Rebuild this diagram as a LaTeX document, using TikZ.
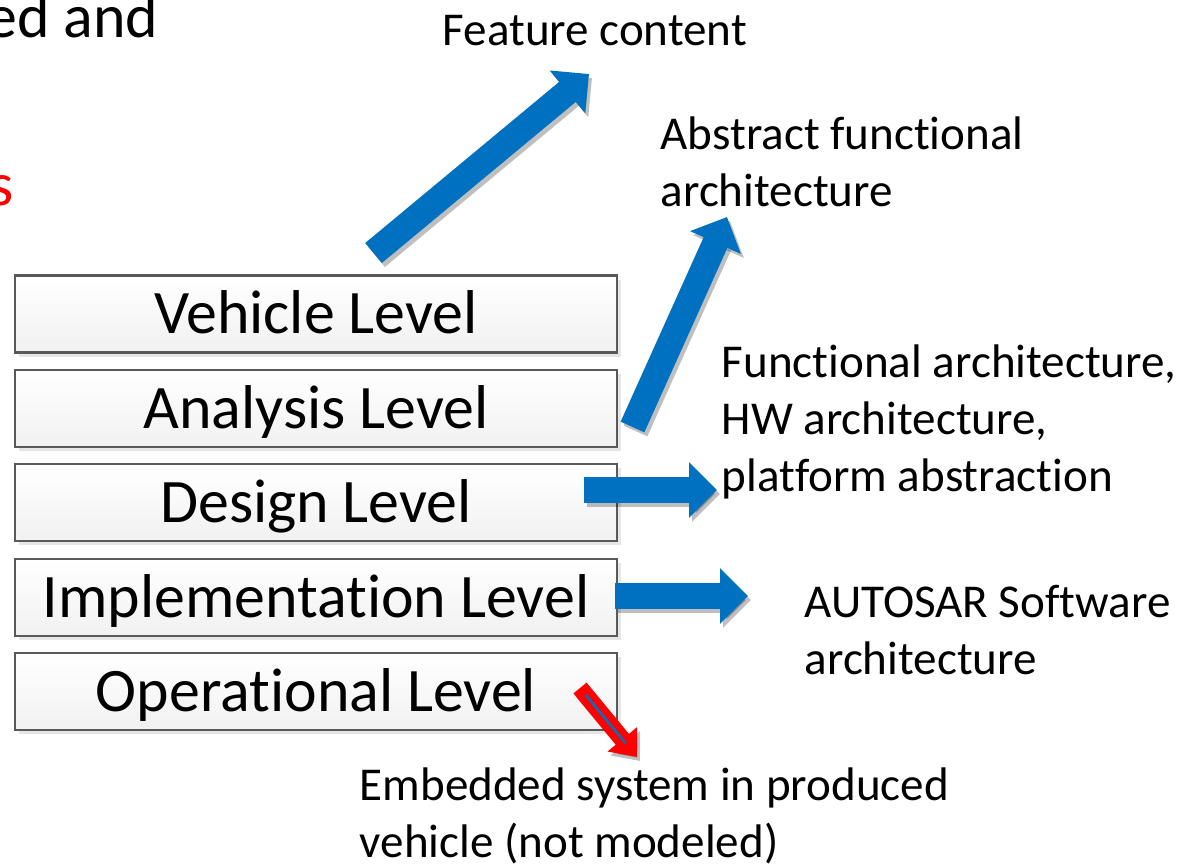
\documentclass[tikz,border=0pt]{standalone}
\usepackage{fontspec}
\setmainfont{Carlito}[Ligatures=NoCommon]
\usepackage{tikz}
\usetikzlibrary{positioning,arrows.meta,calc,shadows}
\definecolor{arrowblue}{HTML}{0070C0}
\definecolor{boxline}{HTML}{595959}

\begin{document}
\begin{tikzpicture}[
  level/.style={draw=boxline, line width=0.6pt, top color=white, bottom color=gray!11,
    minimum width=6.02cm, minimum height=0.77cm, inner sep=0pt, text height=11.3pt, text depth=0pt,
    font=\fontsize{17.6}{21}\selectfont,
    drop shadow={shadow xshift=0.04cm, shadow yshift=-0.04cm, opacity=0.2}},
  note/.style={align=left, inner sep=0pt, anchor=base west, font=\fontsize{13.4}{16.2}\selectfont},
  blockarrow/.style={arrowblue, line width=0.26cm, -{Triangle[length=0.28cm, width=0.54cm]}},
  redarrow/.style={red, line width=0.17cm, -{Triangle[length=0.23cm, width=0.37cm]}},
  arrowshadow/.style={black, opacity=0.25, transform canvas={shift={(0.03,-0.04)}}},
  node distance=0.153cm]
\useasboundingbox (0,0) rectangle (11.91,-8.65);
% slide text cut off at the frame
\node[font=\fontsize{17.6}{21}\selectfont, anchor=base east, inner sep=0pt] (title) at (1.59,-0.37) {ed and};
\node[font=\fontsize{17.6}{21}\selectfont, text=red, anchor=base east, inner sep=0pt] (keyword) at (0.14,-2.05) {s};
% levels
\node[level] (vehicle) at (3.16,-3.14) {Vehicle Level};
\node[level, below=of vehicle] (analysis) {Analysis Level};
\node[level, below=of analysis] (design) {Design Level};
\node[level, below=of design] (impl) {Implementation Level};
\node[level, below=of impl] (oper) {Operational Level};
% artefacts (base = last line)
\node[note] (feature) at (4.42,-0.45) {Feature content};
\node[note] (abstract) at (6.60,-2.06) {Abstract functional\\architecture};
\node[note] (functional) at (7.21,-4.91) {Functional architecture,\\HW architecture,\\platform abstraction};
\node[note] (autosar) at (8.04,-6.74) {AUTOSAR Software\\architecture};
\node[note] (embedded) at (3.59,-8.57) {Embedded system in produced\\vehicle (not modeled)};
% arrow ends
\coordinate (vehicle-out) at (3.735,-2.53);
\coordinate (feature-in) at (5.89,-0.74);
\coordinate (analysis-out) at (6.325,-4.27);
\coordinate (abstract-in) at (7.27,-2.17);
\coordinate (design-out) at (5.84,-4.90);
\coordinate (functional-in) at (7.17,-4.90);
\coordinate (impl-out) at (6.15,-5.96);
\coordinate (autosar-in) at (7.48,-5.96);
\coordinate (oper-out) at (5.80,-6.88);
\coordinate (embedded-in) at (6.37,-7.57);
% arrows
\foreach \a/\b in {vehicle-out/feature-in, analysis-out/abstract-in, design-out/functional-in, impl-out/autosar-in} {
  \draw[blockarrow, arrowshadow] (\a) -- (\b);
  \draw[blockarrow] (\a) -- (\b);
}
\draw[redarrow, arrowshadow] (oper-out) -- (embedded-in);
\draw[redarrow] (oper-out) -- (embedded-in);
\draw[arrowblue, line width=0.7pt] ($(oper-out)!0.1!(embedded-in)$) -- ($(oper-out)!0.8!(embedded-in)$);
\end{tikzpicture}
\end{document}
